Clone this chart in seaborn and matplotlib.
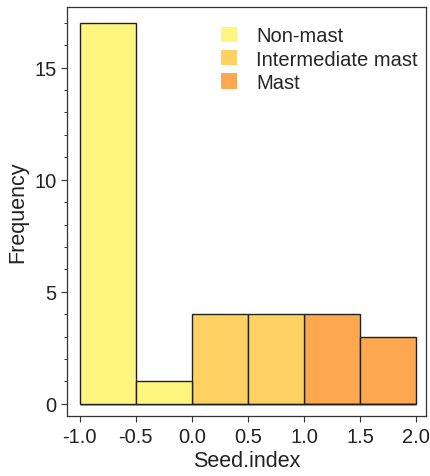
import numpy as np
import pandas as pd
import matplotlib
matplotlib.use("Agg")
import matplotlib.pyplot as plt
import seaborn as sns
from matplotlib.patches import Patch
from matplotlib.ticker import MultipleLocator

sns.set_style("ticks")
plt.rcParams["font.family"] = ["Liberation Sans", "DejaVu Sans"]

# Histogram of seed index: bin edges, counts per bin and mast class of each bin
bin_edges = [-1.0, -0.5, 0.0, 0.5, 1.0, 1.5, 2.0]
counts = [17, 1, 4, 4, 4, 3]
mast_class = ["Non-mast", "Non-mast", "Intermediate mast", "Intermediate mast", "Mast", "Mast"]
classes = ["Non-mast", "Intermediate mast", "Mast"]
colors = ["#FFF67F", "#FFD263", "#FFA850"]

centers = [(a + b) / 2 for a, b in zip(bin_edges[:-1], bin_edges[1:])]
df = pd.DataFrame({"Seed.index": centers, "count": counts, "class": mast_class})

fig = plt.figure(figsize=(4.31, 4.77), dpi=100)
ax = fig.add_axes([0.155, 0.126, 0.833, 0.857])

sns.histplot(data=df, x="Seed.index", weights="count", hue="class",
             hue_order=classes, palette=dict(zip(classes, colors)),
             bins=bin_edges, multiple="layer", alpha=1, edgecolor="#222222",
             linewidth=1.0, legend=False, ax=ax)

ax.set_xlim(-1.116, 2.086)
ax.set_ylim(-0.54, 17.7)
ax.set_xticks(bin_edges)
ax.set_xticklabels([f"{v:.1f}" for v in bin_edges])
ax.set_yticks([0, 5, 10, 15])
ax.yaxis.set_minor_locator(MultipleLocator(1))
ax.tick_params(axis="both", which="major", labelsize=14.5, length=4, width=0.8,
               direction="out", colors="#333333", labelcolor="#222222")
ax.tick_params(axis="x", which="major", pad=4)
ax.tick_params(axis="y", which="minor", length=2.5, width=0.7, colors="#333333")
for s in ax.spines.values():
    s.set_visible(True)
    s.set_linewidth(0.9)
    s.set_color("#333333")

ax.set_xlabel("Seed.index", fontsize=15.5, color="#222222", labelpad=3)
ax.set_ylabel("Frequency", fontsize=15.5, color="#222222", labelpad=4)

handles = [Patch(facecolor=c, edgecolor="none", label=l) for c, l in zip(colors, classes)]
ax.legend(handles=handles, loc="upper left", frameon=False, fontsize=14.5,
          handlelength=0.8, handleheight=0.8, handletextpad=0.95,
          labelspacing=0.22, borderpad=0, borderaxespad=0,
          bbox_to_anchor=(0.429, 0.953))

fig.savefig("out.png", dpi=100)
